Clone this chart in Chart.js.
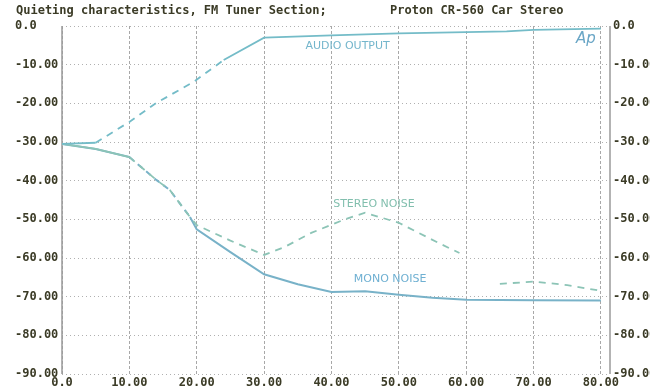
<!DOCTYPE html>
<html>
<head>
<meta charset="utf-8">
<script src="https://cdn.jsdelivr.net/npm/chart.js@4.4.0/dist/chart.umd.min.js"></script>
<style>
  html, body { margin: 0; padding: 0; background: #fff; }
  #wrap { width: 650px; height: 391px; }
</style>
</head>
<body>
<div id="wrap"><canvas id="grafico" width="650" height="391"></canvas></div>
<script>
// Dados (dB vs. dBf)
const audioX = [0, 5, 10, 14, 19.5, 24, 30, 40, 50, 60, 66, 70, 80];
const audioY = [-30.5, -30.2, -24.8, -19.9, -14.5, -8.8, -3.0, -2.4, -1.9, -1.6, -1.4, -1.0, -0.7];

const stereoX = [0, 5, 10, 14, 16, 19, 20, 25, 30, 33, 37, 42, 45, 50, 56, 59, 62, 65, 70, 75, 80];
const stereoY = [-30.5, -31.8, -33.9, -39.8, -42.4, -49.4, -51.5, -55.5, -59.2, -57.2, -53.5, -50.0, -48.3, -50.9, -56.2, -58.7, null, -66.7, -66.1, -67.0, -68.5];

const monoX = [0, 5, 10, 14, 16, 19, 20, 25, 30, 35, 40, 45, 50, 55, 60, 70, 80];
const monoY = [-30.5, -31.8, -33.9, -39.8, -42.4, -49.4, -52.6, -58.5, -64.2, -66.8, -68.8, -68.6, -69.5, -70.3, -70.8, -70.9, -71.0];

const xTicks = [0, 10, 20, 30, 40, 50, 60, 70, 80];
const yTicks = [0, -10, -20, -30, -40, -50, -60, -70, -80, -90];

const tituloEsq = 'Quieting characteristics, FM Tuner Section;';
const tituloDir = 'Proton CR-560 Car Stereo';
const rotulos = [
    { texto: 'AUDIO OUTPUT', x: 42.4, y: -5.2, cor: '#74b6cc' },
    { texto: 'STEREO NOISE', x: 46.3, y: -46.0, cor: '#82bfae' },
    { texto: 'MONO NOISE', x: 48.7, y: -65.4, cor: '#6fb0d2' }
];

const corTexto = '#3b3b26';
const fonteEixo = { family: 'DejaVu Sans Mono', size: 12, weight: 'bold' };

function pontos(xs, ys) {
    return xs.map((x, i) => ({ x: x, y: ys[i] }));
}

function rotuloNumero(v) {
    return v === 0 ? '0.0' : v.toFixed(2);
}

// Plugin para textos e linhas extras
const decoracao = {
    id: 'decoracao',
    beforeDatasetsDraw(chart) {
        const ctx = chart.ctx;
        const a = chart.chartArea;
        ctx.save();
        ctx.strokeStyle = '#9a9a9a';
        ctx.lineWidth = 1.5;
        ctx.beginPath();
        ctx.moveTo(a.left, a.top);
        ctx.lineTo(a.left, a.bottom);
        ctx.moveTo(a.right, a.top);
        ctx.lineTo(a.right, a.bottom);
        ctx.stroke();
        ctx.restore();
    },
    afterDraw(chart) {
        const ctx = chart.ctx;
        const xs = chart.scales.x;
        const ys = chart.scales.y;
        ctx.save();
        ctx.fillStyle = corTexto;
        ctx.font = 'bold 12px "DejaVu Sans Mono"';
        ctx.textBaseline = 'middle';
        ctx.textAlign = 'left';
        ctx.fillText(tituloEsq, 16, 11);
        ctx.fillText(tituloDir, 390, 11);

        ctx.font = '11px "DejaVu Sans"';
        ctx.textAlign = 'center';
        rotulos.forEach(r => {
            ctx.fillStyle = r.cor;
            ctx.fillText(r.texto, xs.getPixelForValue(r.x), ys.getPixelForValue(r.y));
        });

        // logo Ap
        ctx.fillStyle = '#6aa6c6';
        ctx.font = 'italic 15px "DejaVu Sans"';
        ctx.fillText('Ap', 586, 39);
        ctx.restore();
    }
};

new Chart(document.getElementById('grafico').getContext('2d'), {
    type: 'line',
    data: {
        datasets: [
            {
                label: 'Audio output',
                data: pontos(audioX, audioY),
                borderColor: '#74bcc8',
                borderWidth: 1.8,
                pointRadius: 0,
                segment: {
                    borderDash: c => (c.p0.parsed.x >= 5 && c.p1.parsed.x <= 24) ? [7, 6] : undefined
                }
            },
            {
                label: 'Stereo noise',
                data: pontos(stereoX, stereoY),
                borderColor: '#8cc4b6',
                borderWidth: 1.8,
                pointRadius: 0,
                spanGaps: false,
                segment: {
                    borderDash: c => c.p0.parsed.x >= 10 ? [7, 6] : undefined
                }
            },
            {
                label: 'Mono noise',
                data: pontos(monoX, monoY),
                borderColor: '#78b2c8',
                borderWidth: 2,
                pointRadius: 0,
                segment: {
                    borderDash: c => (c.p0.parsed.x >= 10 && c.p1.parsed.x <= 19) ? [6, 5] : undefined
                }
            }
        ]
    },
    options: {
        responsive: false,
        animation: false,
        layout: { padding: { left: 15, top: 26, right: 0, bottom: 0 } },
        plugins: {
            legend: { display: false },
            tooltip: { enabled: false },
            title: { display: false }
        },
        scales: {
            x: {
                type: 'linear',
                min: 0,
                max: 81.35,
                afterBuildTicks: s => { s.ticks = xTicks.map(v => ({ value: v })); },
                afterFit: s => { s.height = 17; },
                grid: { color: '#a8a8a8', lineWidth: 1, drawTicks: false },
                border: { display: false, dash: [3, 2] },
                ticks: {
                    color: corTexto,
                    font: fonteEixo,
                    padding: 2,
                    maxRotation: 0,
                    autoSkip: false,
                    callback: v => rotuloNumero(v)
                }
            },
            y: {
                position: 'left',
                min: -90,
                max: 0,
                afterBuildTicks: s => { s.ticks = yTicks.map(v => ({ value: v })); },
                afterFit: s => { s.width = 47; },
                grid: { color: '#b0b0b0', lineWidth: 1, drawTicks: false },
                border: { display: false, dash: [1, 3] },
                ticks: {
                    color: corTexto,
                    font: fonteEixo,
                    crossAlign: 'far',
                    autoSkip: false,
                    callback: v => rotuloNumero(v)
                }
            },
            y2: {
                position: 'right',
                min: -90,
                max: 0,
                afterBuildTicks: s => { s.ticks = yTicks.map(v => ({ value: v })); },
                afterFit: s => { s.width = 40; },
                grid: { display: false, drawTicks: false },
                border: { display: false },
                ticks: {
                    color: corTexto,
                    font: fonteEixo,
                    padding: 3,
                    autoSkip: false,
                    callback: v => rotuloNumero(v)
                }
            }
        }
    },
    plugins: [decoracao]
});
</script>
</body>
</html>
